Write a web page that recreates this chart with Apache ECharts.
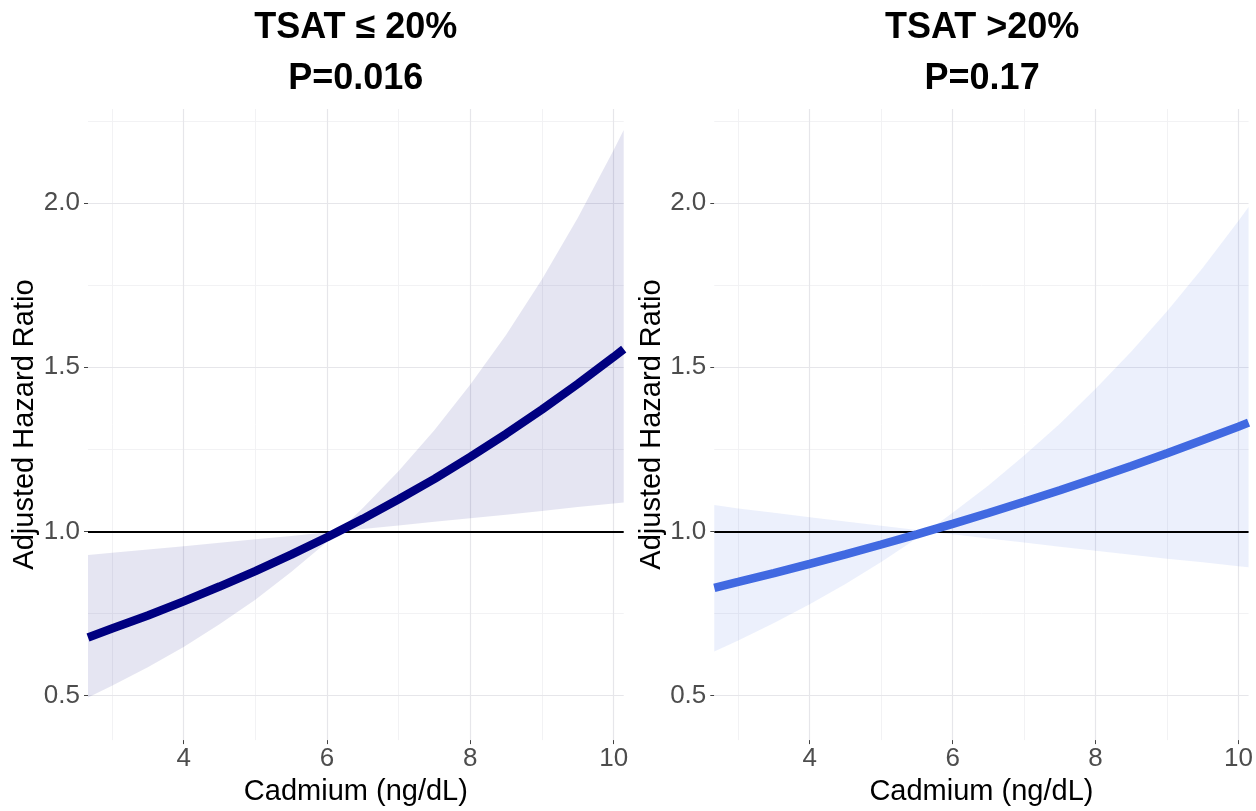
<!DOCTYPE html>
<html><head><meta charset="utf-8">
<script src="https://cdn.jsdelivr.net/npm/echarts@6/dist/echarts.min.js"></script>
<style>html,body{margin:0;padding:0;background:#fff}#c{width:1256px;height:811px}</style>
</head><body><div id="c"></div>
<script>
// Tick values
const xTicks = [4, 6, 8, 10];
const xMinor = [3, 5, 7, 9];
const yTicks = [0.5, 1.0, 1.5, 2.0];
const yMinor = [0.75, 1.25, 1.75, 2.25];

// Panel titles
const titleLeft = ['TSAT ≤ 20%', 'P=0.016'];
const titleRight = ['TSAT >20%', 'P=0.17'];

// Left panel: TSAT <= 20%
const xL   = [2.665, 3, 3.5, 4, 4.5, 5, 5.5, 6, 6.16, 6.5, 7, 7.5, 8, 8.5, 9, 9.5, 10, 10.14];
const fitL = [0.677, 0.704, 0.744, 0.787, 0.832, 0.879, 0.929, 0.982, 1.000, 1.038, 1.098, 1.160, 1.227, 1.297, 1.371, 1.449, 1.531, 1.555];
const lowL = [0.494, 0.530, 0.586, 0.648, 0.717, 0.792, 0.876, 0.968, 1.000, 1.007, 1.018, 1.029, 1.040, 1.051, 1.062, 1.074, 1.085, 1.088];
const upL  = [0.928, 0.935, 0.945, 0.955, 0.965, 0.976, 0.986, 0.997, 1.000, 1.071, 1.184, 1.309, 1.447, 1.599, 1.768, 1.955, 2.161, 2.222];

// Right panel: TSAT > 20%
const xR   = [2.665, 3, 3.5, 4, 4.5, 5, 5.5, 5.64, 6, 6.5, 7, 7.5, 8, 8.5, 9, 9.5, 10, 10.14];
const fitR = [0.828, 0.846, 0.873, 0.901, 0.930, 0.960, 0.991, 1.000, 1.023, 1.056, 1.090, 1.125, 1.162, 1.199, 1.238, 1.278, 1.319, 1.331];
const lowR = [0.634, 0.668, 0.721, 0.778, 0.840, 0.907, 0.979, 1.000, 0.991, 0.978, 0.966, 0.953, 0.941, 0.929, 0.917, 0.906, 0.894, 0.891];
const upR  = [1.080, 1.070, 1.057, 1.043, 1.030, 1.017, 1.004, 1.000, 1.057, 1.140, 1.231, 1.328, 1.434, 1.548, 1.670, 1.803, 1.946, 1.988];

const FONT = '"Liberation Sans", Arial, sans-serif';
const X_MIN = 2.665, X_MAX = 10.14, Y_MIN = 0.3645, Y_MAX = 2.286;

const pairs = (xs, ys) => xs.map((x, i) => [x, ys[i]]);

function gridLines() {
  const major = {color: '#E6E6EA', width: 1.2, type: 'solid'};
  const minor = {color: '#F0F0F3', width: 0.9, type: 'solid'};
  const d = [];
  xMinor.forEach(v => d.push({xAxis: v, lineStyle: minor}));
  yMinor.forEach(v => d.push({yAxis: v, lineStyle: minor}));
  xTicks.forEach(v => d.push({xAxis: v, lineStyle: major}));
  yTicks.forEach(v => d.push({yAxis: v, lineStyle: major}));
  return d;
}

function xAxisCfg(idx) {
  return {
    type: 'value', gridIndex: idx, min: X_MIN, max: X_MAX,
    name: 'Cadmium (ng/dL)', nameLocation: 'middle', nameGap: 31,
    nameTextStyle: {fontFamily: FONT, fontSize: 29, color: '#000'},
    axisLine: {show: false},
    splitLine: {show: false},
    axisTick: {show: true, length: 4, customValues: xTicks, lineStyle: {color: '#444', width: 1}},
    axisLabel: {show: true, customValues: xTicks, margin: 6, fontFamily: FONT, fontSize: 26, color: '#4D4D4D'}
  };
}
function yAxisCfg(idx) {
  return {
    type: 'value', gridIndex: idx, min: Y_MIN, max: Y_MAX,
    name: 'Adjusted Hazard Ratio', nameLocation: 'middle', nameGap: 47,
    nameTextStyle: {fontFamily: FONT, fontSize: 29, color: '#000'},
    axisLine: {show: false},
    splitLine: {show: false},
    axisTick: {show: true, length: 4, customValues: yTicks, lineStyle: {color: '#444', width: 1}},
    axisLabel: {show: true, customValues: yTicks, margin: 8, fontFamily: FONT, fontSize: 26, color: '#4D4D4D',
      formatter: v => Number(v).toFixed(1)}
  };
}

function panelSeries(idx, xs, fit, lo, hi, lineColor, bandColor) {
  return [
    {
      type: 'line', xAxisIndex: idx, yAxisIndex: idx, data: pairs(xs, fit),
      symbol: 'none', silent: true, z: 1, lineStyle: {opacity: 0},
      markLine: {z: 1, silent: true, symbol: 'none', animation: false, label: {show: false}, data: gridLines()}
    },
    {
      type: 'custom', xAxisIndex: idx, yAxisIndex: idx, silent: true, z: 3,
      data: xs.map((x, i) => [x, lo[i], hi[i]]),
      encode: {x: 0, y: [1, 2]},
      renderItem: function (params, api) {
        if (params.dataIndex !== 0) return null;
        const top = xs.map((x, i) => api.coord([x, hi[i]]));
        const bottom = xs.map((x, i) => api.coord([x, lo[i]])).reverse();
        return {
          type: 'polygon',
          shape: {points: top.concat(bottom)},
          style: {fill: bandColor, stroke: null}
        };
      }
    },
    {
      type: 'line', xAxisIndex: idx, yAxisIndex: idx, data: pairs(xs, fit),
      symbol: 'none', silent: true, z: 6,
      lineStyle: {color: lineColor, width: 8.5, cap: 'butt'},
      markLine: {z: 4, silent: true, symbol: 'none', animation: false, label: {show: false},
        lineStyle: {color: '#000', width: 2, type: 'solid'}, data: [{yAxis: 1}]}
    }
  ];
}

function titleGraphics(cx, lines) {
  return lines.map((t, i) => ({
    type: 'text', x: cx, y: 28.5 + i * 51, silent: true,
    style: {text: t, fill: '#000', font: 'bold 36px ' + FONT, align: 'center', verticalAlign: 'middle'}
  }));
}

const chart = echarts.init(document.getElementById('c'), null, {renderer: 'canvas'});
chart.setOption({
  animation: false,
  backgroundColor: '#fff',
  grid: [
    {left: 88, top: 109, width: 535.7, height: 638},
    {left: 714.3, top: 109, width: 535.7, height: 638}
  ],
  xAxis: [xAxisCfg(0), xAxisCfg(1)],
  yAxis: [yAxisCfg(0), yAxisCfg(1)],
  graphic: [].concat(titleGraphics(355.8, titleLeft), titleGraphics(982.1, titleRight)),
  series: [].concat(
    panelSeries(0, xL, fitL, lowL, upL, '#000080', 'rgba(0,0,128,0.1)'),
    panelSeries(1, xR, fitR, lowR, upR, '#4169E1', 'rgba(65,105,225,0.1)')
  )
});
</script></body></html>
